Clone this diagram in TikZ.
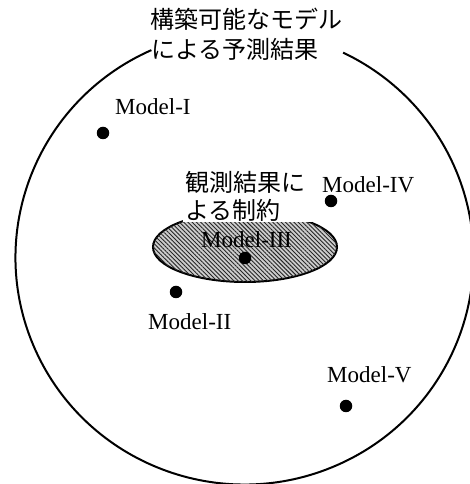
\documentclass[tikz,border=0pt]{standalone}
\usepackage{fontspec}
\setmainfont{Liberation Serif}
\newfontfamily\jpfont{Noto Sans CJK JP}
\usetikzlibrary{patterns.meta}
\tikzset{
  x=1pt, y=1pt,
  jptext/.style={font=\jpfont\fontsize{24}{28}\selectfont, inner sep=0pt, anchor=base west},
  modellabel/.style={font=\fontsize{23}{26}\selectfont, inner sep=0pt, anchor=base west},
  modeldot/.style={circle, fill=black, minimum size=12.5pt, inner sep=0pt},
  bigset/.style={line width=2pt},
  constraint/.style={draw=black, line width=2pt, fill=gray!40,
    postaction={pattern={Lines[angle=-45,distance=3pt,line width=0.9pt]}, pattern color=black!85}}
}
\begin{document}
\begin{tikzpicture}
\useasboundingbox (0,0) rectangle (470,484);
% outer set of constructible models
\coordinate (C) at (244.5,226.5);
\draw[bigset] (C) ++(114:229 and 227) arc[start angle=114, end angle=424.5, x radius=229, y radius=227];
% title
\node[jptext] (t1) at (150,455.7) {構築可能なモデル};
\node[jptext] (t2) at (151,425.7) {による予測結果};
% constraint ellipse
\draw[constraint] (245,237) ellipse[x radius=92, y radius=35];
\fill[white] (183,262) rectangle (312,290);
\node[jptext] (c1) at (185,292.7) {観測結果に};
\node[jptext] (c2) at (185,264) {よる制約};
% models
\node[modellabel] (l1) at (115,369) {Model-I};
\node[modeldot] (d1) at (103,351) {};
\node[modellabel] (l4) at (322,291) {Model-IV};
\node[modeldot] (d4) at (331,283) {};
\node[modellabel] (l3) at (201,236) {Model-III};
\node[modeldot] (d3) at (245,226) {};
\node[modellabel] (l2) at (148,154) {Model-II};
\node[modeldot] (d2) at (176,192) {};
\node[modellabel] (l5) at (327,101) {Model-V};
\node[modeldot] (d5) at (346,78) {};
\end{tikzpicture}
\end{document}
